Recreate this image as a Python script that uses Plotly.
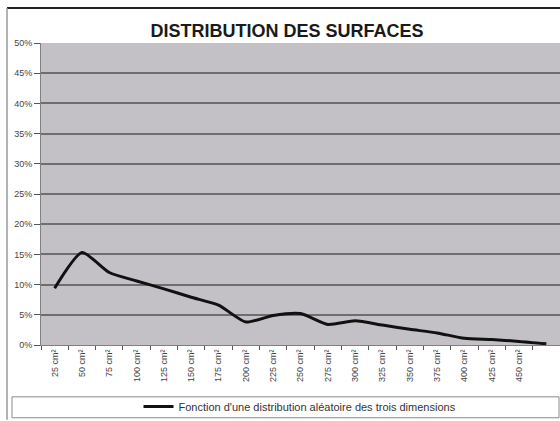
import plotly.graph_objects as go

categories = ["25 cm²", "50 cm²", "75 cm²", "100 cm²", "125 cm²", "150 cm²", "175 cm²",
              "200 cm²", "225 cm²", "250 cm²", "275 cm²", "300 cm²", "325 cm²", "350 cm²",
              "375 cm²", "400 cm²", "425 cm²", "450 cm²", ""]
values = [9.4, 15.3, 12.0, 10.6, 9.3, 7.9, 6.6, 3.8, 4.9, 5.2, 3.4, 4.0, 3.3, 2.6,
          2.0, 1.1, 0.9, 0.6, 0.2]
series_name = "Fonction d'une distribution aléatoire des trois dimensions"
title_text = "DISTRIBUTION DES SURFACES"

idx = list(range(len(categories)))

fig = go.Figure()
fig.add_trace(go.Scatter(
    x=idx, y=values, mode="lines", name=series_name,
    line=dict(color="#111111", width=3, shape="spline", smoothing=0.6),
    showlegend=True,
))

L, T, B = 41, 43, 75
W, H = 560, 421
pw = W - L
ph = H - T - B

def px(x):
    return (x - L) / pw

def py(y):
    return (H - B - y) / ph

fig.update_layout(
    width=W, height=H,
    margin=dict(l=L, r=0, t=T, b=B),
    paper_bgcolor="white",
    plot_bgcolor="#c4c1c6",
    font=dict(family="Arial, Liberation Sans", color="#333333"),
    title=dict(text="<b>" + title_text + "</b>", x=287 / W, xanchor="center",
               y=1 - 31 / H, yanchor="middle", xref="container", yref="container",
               font=dict(size=18, color="#1a1a1a", family="Arial, Liberation Sans")),
    xaxis=dict(
        range=[-0.5, len(categories) - 0.5],
        tickvals=idx, ticktext=categories, tickangle=-90,
        ticks="", showgrid=False, zeroline=False,
        showline=True, linecolor="#808080", linewidth=1,
        tickfont=dict(size=9, color="#444444"),
        minor=dict(tickvals=[i - 0.5 for i in range(len(categories) + 1)],
                   ticks="outside", ticklen=4, tickcolor="#555555", showgrid=False),
        fixedrange=True,
    ),
    yaxis=dict(
        range=[0, 50], dtick=5, ticksuffix="%",
        ticks="outside", ticklen=6, tickcolor="#555555",
        showgrid=True, gridcolor="#6e6e6e", gridwidth=1.5,
        zeroline=False, showline=True, linecolor="#808080", linewidth=1,
        tickfont=dict(size=9, color="#444444"),
    ),
    legend=dict(
        orientation="h", x=(300 - L) / pw, xanchor="center",
        y=py(408), yanchor="middle",
        bgcolor="rgba(0,0,0,0)", borderwidth=0,
        font=dict(size=11, color="#333333"), itemwidth=30,
    ),
    shapes=[
        dict(type="rect", xref="paper", yref="paper",
             x0=px(12), x1=px(559), y0=py(398), y1=py(419),
             line=dict(color="#8a8a8a", width=1), fillcolor="rgba(0,0,0,0)"),
        dict(type="line", xref="paper", yref="paper",
             x0=px(7), x1=px(560), y0=py(8), y1=py(8),
             line=dict(color="#222222", width=2)),
        dict(type="line", xref="paper", yref="paper",
             x0=px(7), x1=px(7), y0=py(8), y1=py(421),
             line=dict(color="#999999", width=1.5)),
    ],
)

fig.write_html("out.html")
